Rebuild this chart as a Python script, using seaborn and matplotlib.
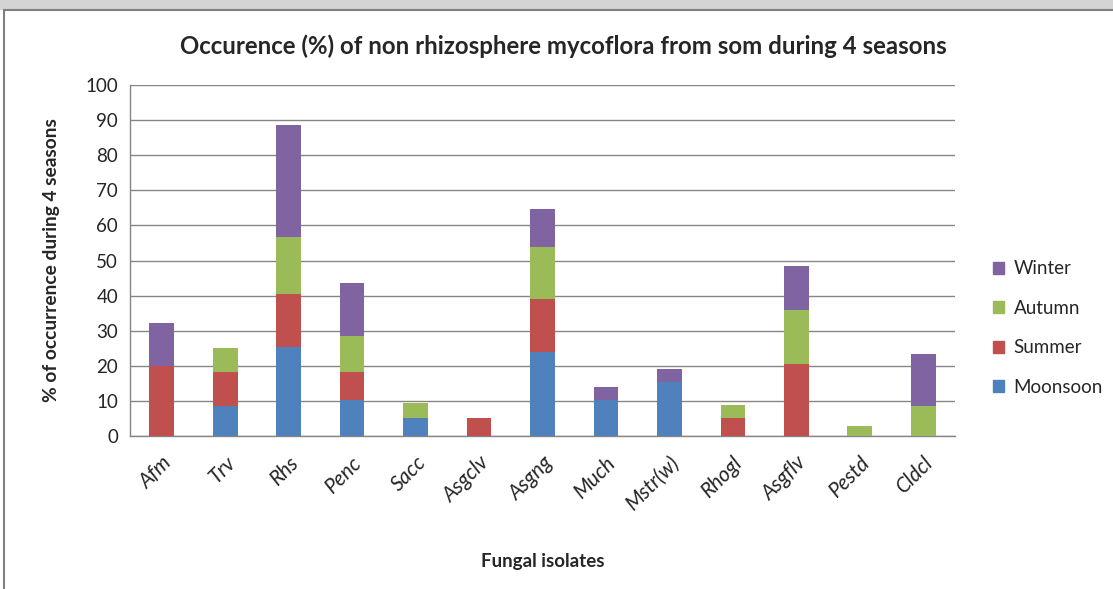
import matplotlib
matplotlib.use("Agg")
import matplotlib.pyplot as plt
from matplotlib.patches import Patch, Rectangle
from matplotlib.lines import Line2D
import seaborn as sns
import pandas as pd

isolates = ['Afm', 'Trv', 'Rhs', 'Penc', 'Sacc', 'Asgclv', 'Asgng', 'Much',
            'Mstr(w)', 'Rhogl', 'Asgflv', 'Pestd', 'Cldcl']
moonsoon = [0, 8.5, 25.4, 10.3, 5.2, 0, 24.0, 10.3, 15.5, 0, 0, 0, 0]
summer = [20.0, 9.8, 15.0, 8.0, 0, 5.2, 15.0, 0, 0, 5.2, 20.5, 0, 0]
autumn = [0, 6.7, 16.2, 10.2, 4.2, 0, 14.8, 0, 0, 3.6, 15.5, 2.8, 8.5]
winter = [12.1, 0, 31.9, 15.0, 0, 0, 10.9, 3.6, 3.5, 0, 12.5, 0, 14.9]

seasons = ['Moonsoon', 'Summer', 'Autumn', 'Winter']
palette = {'Moonsoon': '#4f81bd', 'Summer': '#c0504d',
           'Autumn': '#9bbb59', 'Winter': '#8064a2'}

df = pd.DataFrame({'isolate': isolates, 'Moonsoon': moonsoon, 'Summer': summer,
                   'Autumn': autumn, 'Winter': winter})
# running totals so the bars can be overlaid as a stack
cum = df[seasons].cumsum(axis=1)
cum['isolate'] = df['isolate']

sns.set_style("white")
plt.rcParams['font.family'] = ['Lato', 'DejaVu Sans']

fig = plt.figure(figsize=(11.13, 5.89), dpi=100)
ax = fig.add_axes([130 / 1113, 1 - 436 / 589, 825 / 1113, 351 / 589])

for s in reversed(seasons):
    sns.barplot(data=cum, x='isolate', y=s, color=palette[s], saturation=1,
                width=0.39, linewidth=0, ax=ax, zorder=3)

ax.set_xlim(-0.5, len(isolates) - 0.5)
ax.set_ylim(0, 100)
ax.set_yticks(range(0, 101, 10))
ax.yaxis.grid(True, color='#868686', linewidth=1)
ax.set_axisbelow(True)
for sp in ['top', 'right']:
    ax.spines[sp].set_visible(False)
for sp in ['left', 'bottom']:
    ax.spines[sp].set_color('#868686')
    ax.spines[sp].set_linewidth(1)

ax.set_xticks(range(len(isolates)))
ax.set_xticklabels(isolates, rotation=45, ha='right', rotation_mode='anchor',
                   fontstyle='italic', fontsize=15)
ax.set_xticks([i - 0.5 for i in range(len(isolates) + 1)], minor=True)
ax.tick_params(axis='x', which='major', length=0, pad=12)
ax.tick_params(axis='x', which='minor', length=6, color='#868686', direction='out')
ax.tick_params(axis='y', length=5, color='#868686', direction='out', labelsize=13.5)

ax.set_xlabel('Fungal isolates', fontsize=13.5, fontweight='bold', labelpad=28)
ax.set_ylabel('% of occurrence during 4 seasons', fontsize=13.8, fontweight='bold', labelpad=18)
ax.set_title('Occurence (%) of non rhizosphere mycoflora from som during 4 seasons',
             fontsize=17.3, fontweight='bold', pad=22, x=0.525)

handles = [Patch(color=palette[s], label=s) for s in reversed(seasons)]
fig.legend(handles=handles, loc='center left', bbox_to_anchor=(976 / 1113, 1 - 328 / 589),
           frameon=False, fontsize=13.5, handlelength=0.6, handleheight=0.6,
           handletextpad=0.5, labelspacing=1.2)

# Excel chart frame and the cut-off page strip above it
fig.patches.append(Rectangle((0, 1 - 9 / 589), 1, 9 / 589, transform=fig.transFigure,
                             color='#d4d4d4', zorder=0))
fig.add_artist(Line2D([4 / 1113, 4 / 1113], [0, 1 - 10 / 589], color='#7f7f7f', linewidth=1.5))
fig.add_artist(Line2D([4 / 1113, 1], [1 - 10 / 589, 1 - 10 / 589], color='#7f7f7f', linewidth=1.5))

fig.savefig('out.png', dpi=100)
